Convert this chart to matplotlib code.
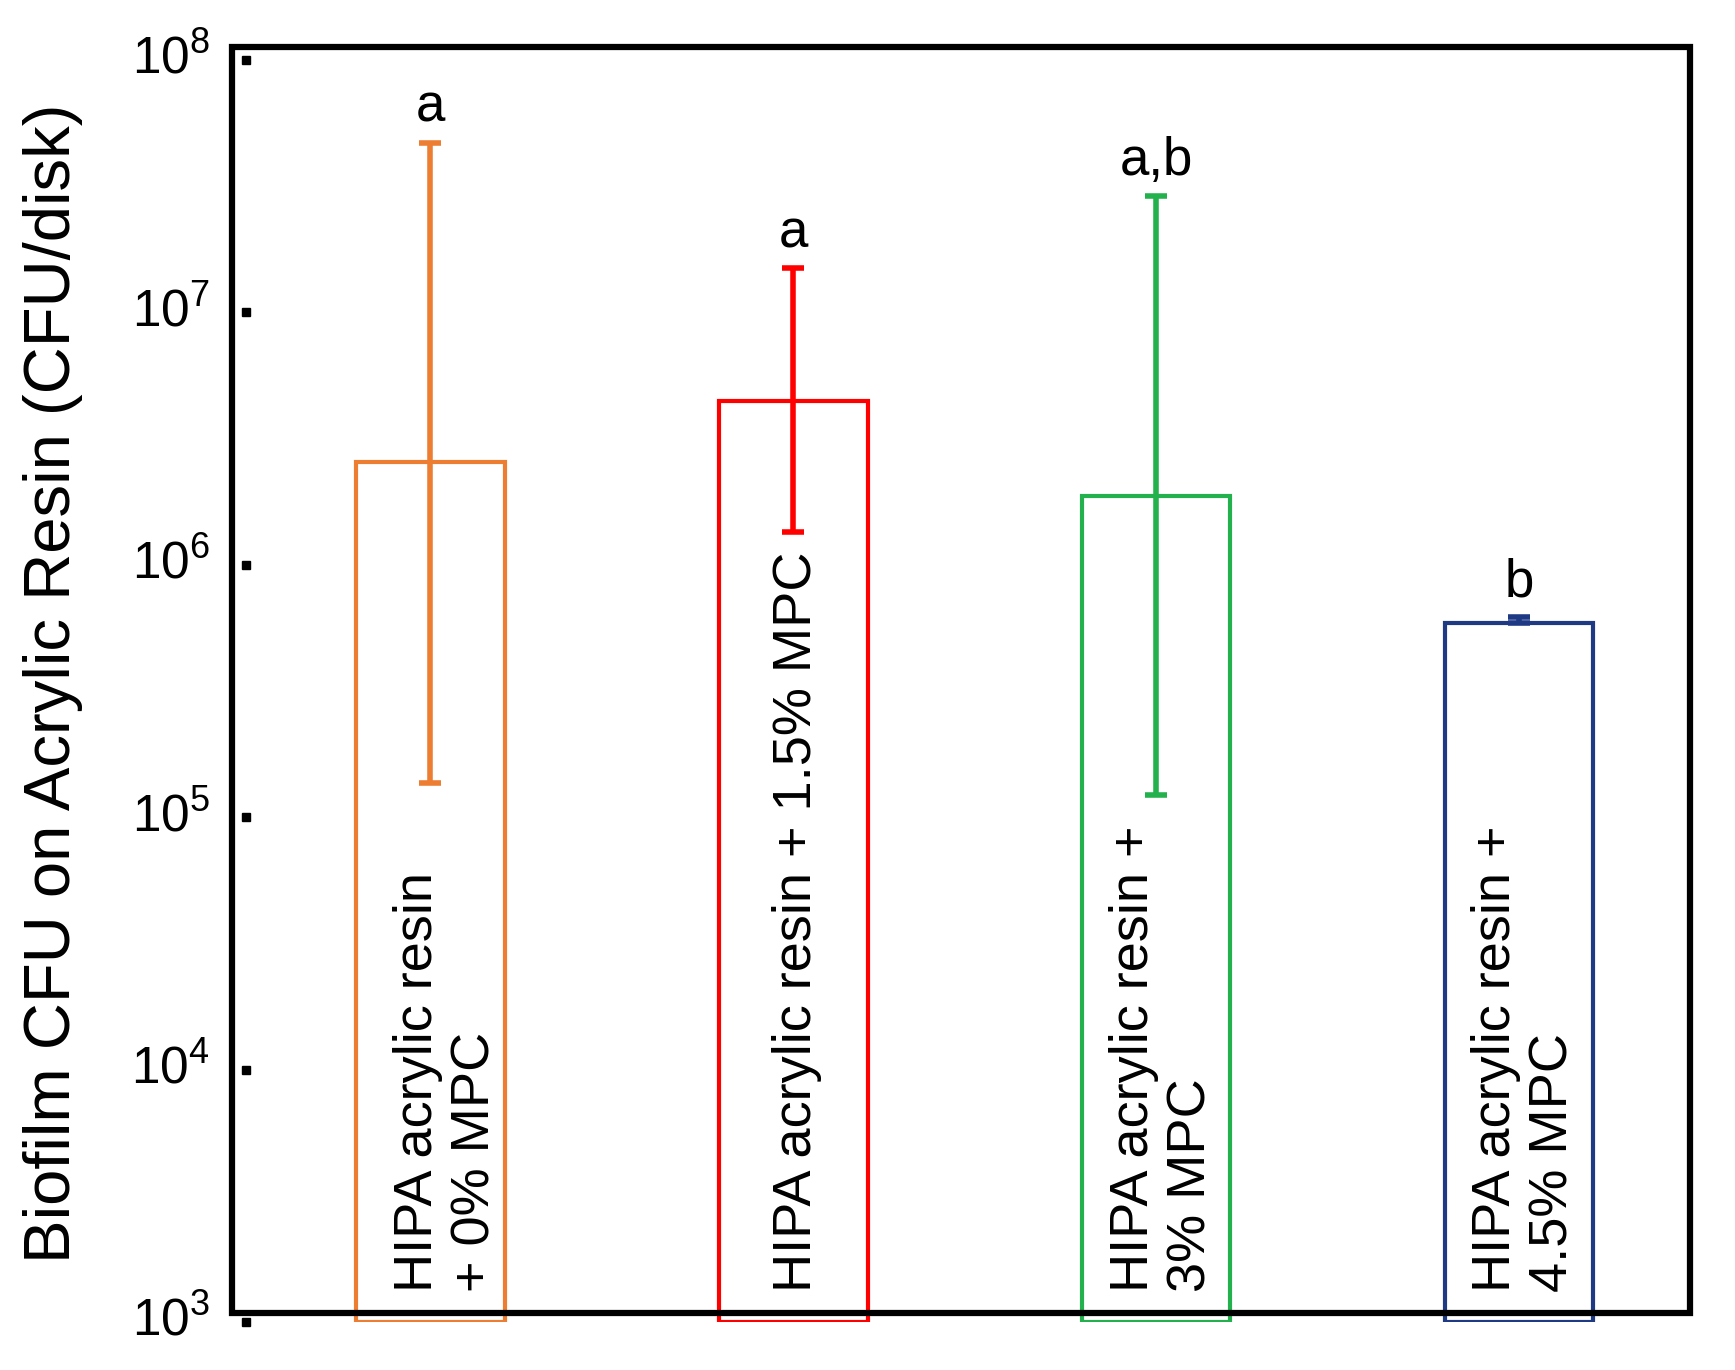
import numpy as np
import matplotlib
matplotlib.use("Agg")
import matplotlib.pyplot as plt
from matplotlib.patches import Rectangle
import matplotlib.transforms as mtransforms

plt.rcParams['font.family'] = ['Liberation Sans', 'DejaVu Sans']
plt.rcParams['mathtext.fontset'] = 'custom'
plt.rcParams['mathtext.rm'] = 'Liberation Sans'
plt.rcParams['mathtext.it'] = 'Liberation Sans'

# data (CFU/disk)
labels = ["HIPA acrylic resin\n+ 0% MPC",
          "HIPA acrylic resin + 1.5% MPC",
          "HIPA acrylic resin +\n3% MPC",
          "HIPA acrylic resin +\n4.5% MPC"]
means = [2.56e6, 4.46e6, 1.87e6, 5.86e5]
err_hi = [4.7e7, 1.5e7, 2.9e7, 6.2e5]
err_lo = [1.37e5, 1.35e6, 1.22e5, 5.86e5]
letters = ["a", "a", "a,b", "b"]
colors = ["#ED7D31", "#FF0000", "#22B14C", "#1F3A85"]
tick_exps = [3, 4, 5, 6, 7, 8]

W, H = 1735, 1370
fig = plt.figure(figsize=(W / 100, H / 100), dpi=100)

# data area (pixels from top-left)
L, R, T, B = 232, 1690, 60, 1322
ax = fig.add_axes([L / W, 1 - B / H, (R - L) / W, (B - T) / H])
ax.set_yscale('log')
ax.set_ylim(1e3, 1e8)
ax.set_xlim(-0.546, 3.471)
for s in ax.spines.values():
    s.set_visible(False)
ax.set_xticks([])
ax.set_yticks([])
ax.minorticks_off()
ax.patch.set_alpha(0)

x = np.arange(len(means))
ax.bar(x, np.array(means) - 1e3, bottom=1e3, width=0.41, facecolor='white',
       edgecolor=colors, linewidth=3, zorder=2)
text_shift = [12, 3, 5, 4]  # small sideways nudge of the in-bar labels (pt)
for i in range(len(means)):
    yerr = [[means[i] - err_lo[i]], [err_hi[i] - means[i]]]
    ax.errorbar(x[i], means[i], yerr=yerr, fmt='none', ecolor=colors[i],
                elinewidth=4, capsize=8, capthick=4, zorder=3)
    ax.annotate(letters[i], (x[i], err_hi[i]), xytext=(0, 15),
                textcoords='offset points', ha='center', va='baseline',
                fontsize=38)
    ax.annotate(labels[i], (x[i], 1.32e3), xytext=(text_shift[i], 0),
                textcoords='offset points', rotation=90, ha='center',
                va='bottom', multialignment='left', fontsize=39, zorder=4)

# tick dots and labels
tr = mtransforms.blended_transform_factory(ax.transAxes, ax.transData)
for e in tick_exps:
    ax.plot([0.0096], [10.0 ** e], marker='s', color='black', markersize=6,
            transform=tr, clip_on=False, zorder=5)
    ax.text(-0.015, 10.0 ** e, r'$10^{%d}$' % e, transform=tr, ha='right',
            va='center', fontsize=37)

# frame, drawn slightly above the data area as in the original
fL, fR, fT, fB = 232, 1690, 47, 1313
fig.patches.append(Rectangle((fL / W, 1 - fB / H), (fR - fL) / W, (fB - fT) / H,
                             transform=fig.transFigure, fill=False,
                             edgecolor='black', linewidth=4.5, zorder=10))

fig.text(53 / W, 1 - 683 / H, "Biofilm CFU on Acrylic Resin (CFU/disk)",
         rotation=90, ha='center', va='center', fontsize=47)

fig.savefig("out.png", dpi=100)
